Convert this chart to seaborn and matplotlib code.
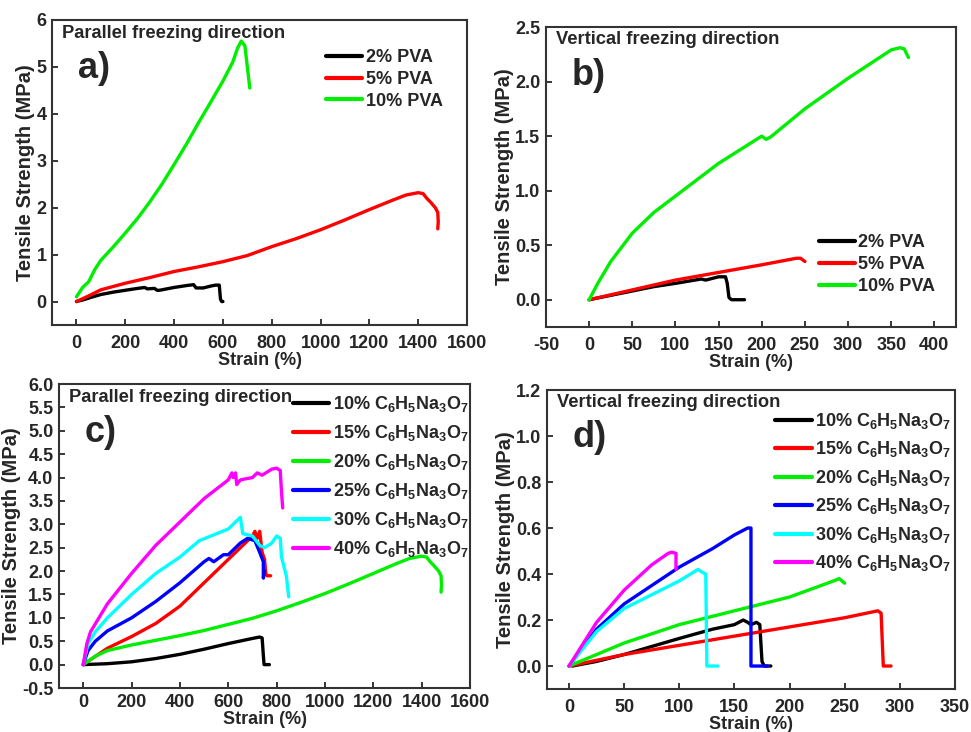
import pandas as pd
import numpy as np
import matplotlib
matplotlib.use("Agg")
import matplotlib.pyplot as plt
import seaborn as sns

# ---- data ----
# a) parallel freezing, PVA content
a_2_x = [0, 30, 60, 100, 150, 200, 250, 280, 290, 320, 330, 340, 400, 450, 480, 490, 520, 550, 570, 585, 590, 595, 600]
a_2_y = [0, 0.04, 0.09, 0.15, 0.2, 0.24, 0.28, 0.3, 0.27, 0.28, 0.24, 0.24, 0.3, 0.34, 0.36, 0.29, 0.29, 0.33, 0.35, 0.35, 0.05, 0.0, 0.0]
a_5_x = [0, 50, 100, 200, 300, 400, 500, 600, 700, 800, 900, 1000, 1100, 1200, 1300, 1350, 1400, 1420, 1435, 1450, 1470, 1480, 1482, 1480]
a_5_y = [0, 0.12, 0.25, 0.39, 0.51, 0.64, 0.74, 0.85, 0.98, 1.17, 1.34, 1.53, 1.74, 1.96, 2.17, 2.27, 2.32, 2.3, 2.2, 2.12, 2.0, 1.9, 1.7, 1.55]
a_10_x = [0, 10, 25, 50, 75, 100, 150, 200, 250, 300, 350, 400, 450, 500, 550, 600, 640, 660, 675, 690, 700, 710]
a_10_y = [0.1, 0.18, 0.3, 0.42, 0.68, 0.88, 1.16, 1.46, 1.77, 2.12, 2.5, 2.92, 3.35, 3.81, 4.25, 4.7, 5.1, 5.4, 5.55, 5.45, 5.0, 4.55]

# b) vertical freezing, PVA content
b_2_x = [0, 25, 50, 75, 100, 130, 135, 150, 158, 160, 162, 165, 180]
b_2_y = [0, 0.04, 0.08, 0.12, 0.15, 0.19, 0.18, 0.21, 0.21, 0.15, 0.02, 0.0, 0.0]
b_5_x = [0, 50, 100, 150, 200, 240, 245, 250]
b_5_y = [0, 0.09, 0.18, 0.25, 0.32, 0.38, 0.38, 0.35]
b_10_x = [0, 10, 25, 50, 75, 100, 150, 200, 205, 210, 250, 300, 350, 360, 365, 370]
b_10_y = [0, 0.15, 0.35, 0.61, 0.8, 0.95, 1.25, 1.5, 1.47, 1.49, 1.75, 2.03, 2.29, 2.31, 2.3, 2.22]

# c) parallel freezing, citrate content
c_10_x = [0, 100, 200, 300, 400, 500, 600, 700, 730, 740, 745, 748, 770]
c_10_y = [0, 0.02, 0.06, 0.13, 0.22, 0.33, 0.45, 0.56, 0.59, 0.57, 0.2, 0.0, 0.0]
c_15_x = [0, 100, 200, 300, 400, 500, 600, 680, 700, 710, 720, 730, 740, 750, 755, 760, 775]
c_15_y = [0, 0.35, 0.6, 0.88, 1.25, 1.75, 2.25, 2.65, 2.75, 2.85, 2.7, 2.85, 2.4, 2.25, 1.95, 1.9, 1.9]
c_20_x = [0, 50, 100, 200, 300, 400, 500, 600, 700, 800, 900, 1000, 1100, 1200, 1300, 1350, 1400, 1420, 1435, 1450, 1470, 1480, 1482, 1480]
c_20_y = [0, 0.18, 0.3, 0.42, 0.52, 0.62, 0.73, 0.86, 0.99, 1.15, 1.33, 1.52, 1.73, 1.95, 2.17, 2.27, 2.32, 2.3, 2.2, 2.12, 2.0, 1.9, 1.7, 1.55]
c_25_x = [0, 20, 50, 100, 200, 300, 400, 500, 520, 540, 580, 600, 650, 680, 710, 730, 745, 745, 750]
c_25_y = [0, 0.3, 0.5, 0.72, 1.0, 1.35, 1.75, 2.2, 2.27, 2.2, 2.35, 2.35, 2.6, 2.7, 2.65, 2.4, 2.2, 1.85, 2.0]
c_30_x = [0, 20, 50, 100, 200, 300, 400, 480, 600, 630, 650, 660, 700, 730, 750, 780, 800, 815, 820, 840, 850]
c_30_y = [0, 0.45, 0.7, 1.0, 1.5, 1.95, 2.3, 2.65, 2.9, 3.05, 3.15, 2.8, 2.75, 2.55, 2.5, 2.6, 2.75, 2.7, 2.3, 1.9, 1.45]
c_40_x = [0, 15, 30, 100, 200, 300, 400, 500, 600, 615, 620, 630, 635, 650, 700, 720, 740, 780, 800, 815, 820, 825]
c_40_y = [0, 0.45, 0.7, 1.3, 1.95, 2.55, 3.05, 3.55, 3.95, 4.1, 4.0, 4.1, 3.85, 3.95, 4.0, 4.1, 4.05, 4.18, 4.2, 4.15, 3.7, 3.35]

# d) vertical freezing, citrate content
d_10_x = [3, 25, 50, 100, 130, 150, 158, 162, 165, 170, 173, 175, 177, 183]
d_10_y = [0, 0.02, 0.05, 0.12, 0.16, 0.18, 0.2, 0.19, 0.18, 0.19, 0.18, 0.02, 0.0, 0.0]
d_15_x = [0, 50, 100, 150, 200, 250, 280, 283, 285, 292]
d_15_y = [0, 0.05, 0.09, 0.13, 0.17, 0.21, 0.24, 0.23, 0.0, 0.0]
d_20_x = [0, 50, 100, 150, 200, 240, 245, 250]
d_20_y = [0, 0.1, 0.18, 0.24, 0.3, 0.37, 0.38, 0.36]
d_25_x = [0, 25, 50, 100, 130, 150, 162, 165, 165, 180]
d_25_y = [0, 0.16, 0.27, 0.43, 0.51, 0.57, 0.6, 0.6, 0.0, 0.0]
d_30_x = [0, 25, 50, 100, 117, 120, 124, 125, 135]
d_30_y = [0, 0.15, 0.25, 0.37, 0.42, 0.41, 0.4, 0.0, 0.0]
d_40_x = [0, 25, 50, 75, 90, 93, 97, 97]
d_40_y = [0, 0.19, 0.33, 0.44, 0.49, 0.495, 0.49, 0.42]

pva_labels = ["2% PVA", "5% PVA", "10% PVA"]
cit_pct = ["10%", "15%", "20%", "25%", "30%", "40%"]
cit_labels = [p + r" C$_6$H$_5$Na$_3$O$_7$" for p in cit_pct]

pva_colors = ["#000000", "#ff0000", "#00ee00"]
cit_colors = ["#000000", "#ff0000", "#00ee00", "#0000ff", "#00ffff", "#ff00ff"]


def make_df(xs, ys, labels):
    frames = []
    for x, y, lab in zip(xs, ys, labels):
        frames.append(pd.DataFrame({"strain": x, "stress": y, "sample": lab}))
    return pd.concat(frames, ignore_index=True)


df_a = make_df([a_2_x, a_5_x, a_10_x], [a_2_y, a_5_y, a_10_y], pva_labels)
df_b = make_df([b_2_x, b_5_x, b_10_x], [b_2_y, b_5_y, b_10_y], pva_labels)
df_c = make_df([c_10_x, c_15_x, c_20_x, c_25_x, c_30_x, c_40_x],
               [c_10_y, c_15_y, c_20_y, c_25_y, c_30_y, c_40_y], cit_labels)
df_d = make_df([d_10_x, d_15_x, d_20_x, d_25_x, d_30_x, d_40_x],
               [d_10_y, d_15_y, d_20_y, d_25_y, d_30_y, d_40_y], cit_labels)

sns.set_style("ticks")
plt.rcParams["font.family"] = ["Liberation Sans", "DejaVu Sans"]
plt.rcParams["font.weight"] = "bold"
plt.rcParams["axes.labelweight"] = "bold"
plt.rcParams["mathtext.fontset"] = "custom"
plt.rcParams["mathtext.rm"] = "Liberation Sans:bold"
plt.rcParams["mathtext.it"] = "Liberation Sans:bold"
plt.rcParams["mathtext.bf"] = "Liberation Sans:bold"
plt.rcParams["mathtext.default"] = "rm"
plt.rcParams["xtick.direction"] = "in"
plt.rcParams["ytick.direction"] = "in"

fig = plt.figure(figsize=(9.71, 7.32), dpi=100)
ax_a = fig.add_axes([0.0536, 0.556, 0.4274, 0.4167])
ax_b = fig.add_axes([0.5623, 0.5533, 0.4222, 0.4098])
ax_c = fig.add_axes([0.0608, 0.0601, 0.4233, 0.4153])
ax_d = fig.add_axes([0.5633, 0.0587, 0.4202, 0.4085])

panels = [
    (ax_a, df_a, pva_colors, pva_labels, "Parallel freezing direction", "a)",
     (-100, 1600), (-0.5, 6), np.arange(0, 1601, 200), np.arange(0, 6.1, 1), "{:.0f}", 7,
     dict(loc="upper left", bbox_to_anchor=(0.66, 0.905), labelspacing=0.27)),
    (ax_b, df_b, pva_colors, pva_labels, "Vertical freezing direction", "b)",
     (-50, 425), (-0.25, 2.5), np.arange(-50, 401, 50), np.arange(0, 2.51, 0.5), "{:.1f}", 7,
     dict(loc="upper left", bbox_to_anchor=(0.665, 0.31), labelspacing=0.28)),
    (ax_c, df_c, cit_colors, cit_labels, "Parallel freezing direction", "c)",
     (-100, 1600), (-0.5, 6), np.arange(0, 1601, 200), np.arange(-0.5, 6.01, 0.5), "{:.1f}", 4,
     dict(loc="upper left", bbox_to_anchor=(0.57, 0.967), labelspacing=0.5)),
    (ax_d, df_d, cit_colors, cit_labels, "Vertical freezing direction", "d)",
     (-20, 350), (-0.1, 1.2), np.arange(0, 351, 50), np.arange(0, 1.21, 0.2), "{:.1f}", 7,
     dict(loc="upper left", bbox_to_anchor=(0.56, 0.93), labelspacing=0.47)),
]

for ax, df, cols, labs, title, letter, xl, yl, xt, yt, yfmt, xpad, legkw in panels:
    sns.lineplot(data=df, x="strain", y="stress", hue="sample", hue_order=labs,
                 palette=cols, sort=False, estimator=None, units="sample",
                 lw=2.4, ax=ax)
    ax.set_xlim(xl)
    ax.set_ylim(yl)
    ax.set_xticks(xt)
    ax.set_xticklabels(["{:.0f}".format(v) for v in xt])
    ax.set_yticks(yt)
    ax.set_yticklabels([yfmt.format(v) for v in yt])
    ax.tick_params(labelsize=13, width=1.3, length=4)
    ax.tick_params(axis="x", pad=xpad)
    ax.tick_params(axis="y", pad=4)
    for lab in ax.get_xticklabels() + ax.get_yticklabels():
        lab.set_fontweight("bold")
    for sp in ax.spines.values():
        sp.set_visible(True)
        sp.set_linewidth(1.5)
        sp.set_color("#333333")
    ax.set_xlabel("Strain (%)", fontsize=13, fontweight="bold", labelpad=0)
    ax.set_ylabel("Tensile Strength (MPa)", fontsize=14.5, fontweight="bold", labelpad=1)
    ax.text(0.025, 0.957, title, transform=ax.transAxes, fontsize=13.2,
            fontweight="bold", va="center", ha="left")
    ax.text(0.062, 0.84, letter, transform=ax.transAxes, fontsize=26,
            fontweight="bold", va="center", ha="left")
    leg = ax.legend(frameon=False, fontsize=13, handlelength=2.0,
                    handletextpad=0.2, borderpad=0, borderaxespad=0, **legkw)
    for t in leg.get_texts():
        t.set_fontweight("bold")
    for h in leg.get_lines():
        h.set_linewidth(3)

fig.savefig("out.png", dpi=100)
